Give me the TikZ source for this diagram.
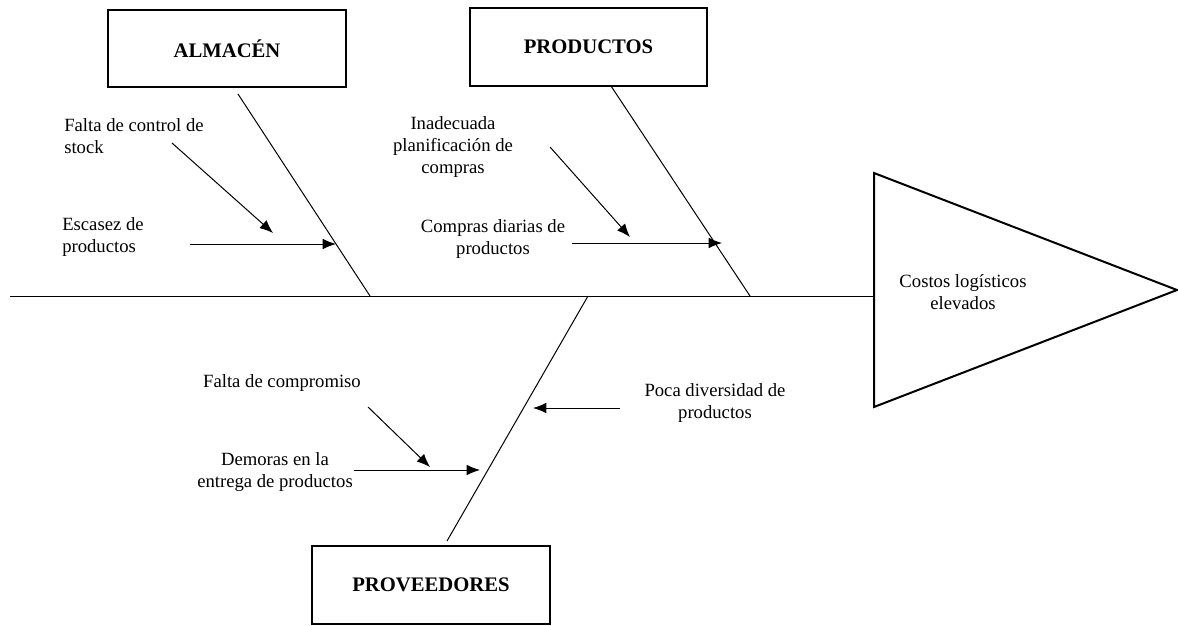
\documentclass[tikz,border=0pt]{standalone}
\usepackage{fontspec}
\setmainfont{Liberation Serif}
\usetikzlibrary{arrows.meta}
\begin{document}
\begin{tikzpicture}[x=0.75pt,y=-0.75pt,
		causa/.style={font=\fontsize{14}{16.5}\selectfont, align=center, inner sep=0pt},
		grupo/.style={draw, line width=1.5pt, minimum width=178pt, minimum height=58pt, font=\fontsize{15.5}{18}\selectfont\bfseries},
		espina/.style={line width=0.75pt},
		flecha/.style={-{Latex[length=10pt,width=8pt]}, line width=0.75pt}]
	\useasboundingbox (0,0) rectangle (1178,625);
	% cabeza y espina central
	\coordinate (ini) at (10,296);
	\coordinate (cab) at (874,296);
	\draw[espina] (ini) -- (cab);
	\draw[line width=1.5pt] (874,173) -- (1177,290) -- (874,407) -- cycle;
	\node[causa] (efecto) at (963,292) {Costos logísticos\\elevados};
	% categorias
	\node[grupo] (alm) at (227,48.5) {ALMACÉN};
	\node[grupo] (prod) at (588.5,47) {PRODUCTOS};
	\node[grupo] (prov) at (431,585) {PROVEEDORES};
	\coordinate (alm1) at (238,94);   \coordinate (alm2) at (370,296);
	\coordinate (prod1) at (611,86);  \coordinate (prod2) at (750,296);
	\coordinate (prov1) at (447,541); \coordinate (prov2) at (588,296);
	\foreach \s/\t in {alm1/alm2,prod1/prod2,prov1/prov2}
		\draw[espina] (\s) -- (\t);
	% causas
	\node[causa, align=left, anchor=west] (c1) at (64,136) {Falta de control de\\stock};
	\node[causa, align=left, anchor=west] (c2) at (62,237) {Escasez de\\productos};
	\node[causa] (c3) at (453,147) {Inadecuada\\planificación de\\compras};
	\node[causa] (c4) at (493,239) {Compras diarias de\\productos};
	\node[causa] (c5) at (282,383) {Falta de compromiso};
	\node[causa] (c6) at (275,472) {Demoras en la\\entrega de productos};
	\node[causa] (c7) at (715,403) {Poca diversidad de\\productos};
	\coordinate (f1a) at (172,143); \coordinate (f1b) at (273,233);
	\coordinate (f2a) at (190,244); \coordinate (f2b) at (336,244);
	\coordinate (f3a) at (550,147); \coordinate (f3b) at (630,237);
	\coordinate (f4a) at (572,243); \coordinate (f4b) at (722,243);
	\coordinate (f5a) at (368,407); \coordinate (f5b) at (430,467);
	\coordinate (f6a) at (354,470); \coordinate (f6b) at (480,470);
	\coordinate (f7a) at (620,408); \coordinate (f7b) at (533,408);
	\foreach \i in {1,...,7}
		\draw[flecha] (f\i a) -- (f\i b);
\end{tikzpicture}
\end{document}
